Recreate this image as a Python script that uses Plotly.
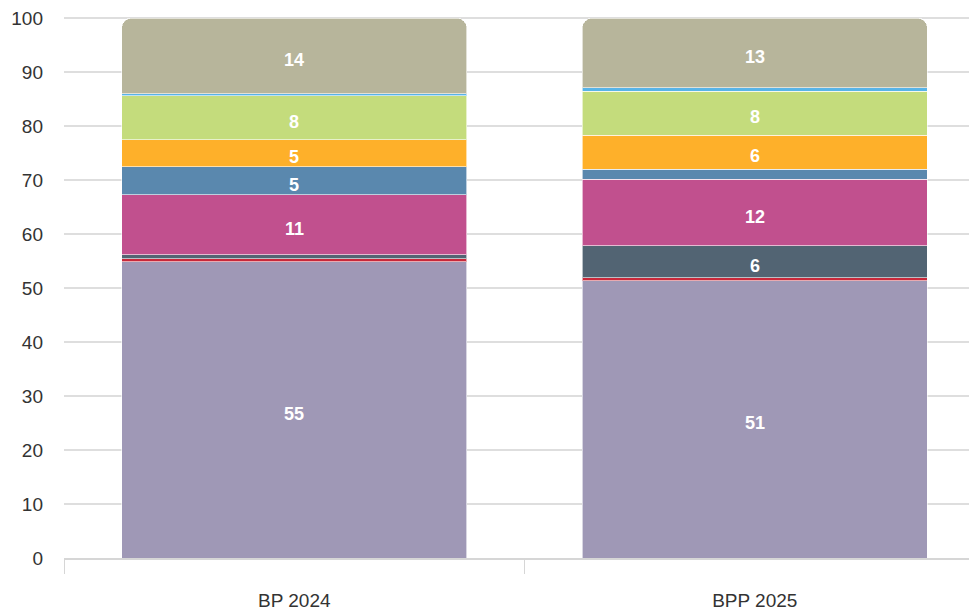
import plotly.graph_objects as go

categories = ["BP 2024", "BPP 2025"]
series_names = ["S1", "S2", "S3", "S4", "S5", "S6", "S7", "S8", "S9"]
purple = [54.9, 51.4]
red = [0.5, 0.5]
slate = [0.8, 5.9]
magenta = [11.1, 12.4]
blue = [5.2, 1.8]
orange = [5.0, 6.3]
green = [8.1, 8.2]
lightblue = [0.4, 0.6]
khaki = [14.0, 12.9]
y_ticks = [0, 10, 20, 30, 40, 50, 60, 70, 80, 90, 100]

series_values = [purple, red, slate, magenta, blue, orange, green, lightblue, khaki]
colors = ["#9f98b6", "#c8283a", "#526473", "#c1508e", "#5a88ae",
          "#feb02a", "#c4dc7c", "#58b4e8", "#b7b59b"]

fig = go.Figure()
base = [0.0] * len(categories)
for name, vals, col in zip(series_names, series_values, colors):
    fig.add_trace(go.Bar(
        x=categories, y=vals, name=name,
        marker=dict(color=col, line=dict(color="rgba(255,255,255,0.6)", width=1)),
        hoverinfo="x+y",
    ))
    for i, v in enumerate(vals):
        if v >= 3:
            fig.add_annotation(
                x=categories[i], y=base[i] + v / 2, text=str(round(v)),
                showarrow=False, yshift=-4,
                font=dict(color="white", size=18, family="Liberation Sans", weight="bold"),
            )
        base[i] += v

fig.update_layout(
    barmode="stack",
    bargap=0.25,
    barcornerradius=10,
    width=977, height=611,
    margin=dict(l=56, r=0, t=8, b=61, autoexpand=False),
    plot_bgcolor="white", paper_bgcolor="white",
    showlegend=False,
    font=dict(family="Liberation Sans", color="#333333"),
)
fig.update_yaxes(
    range=[0, 100.4], tickmode="array", tickvals=y_ticks,
    showgrid=True, gridcolor="#dedede", gridwidth=2,
    zeroline=False, tickfont=dict(size=19, color="#333333"), ticklabelstandoff=20,
    ticklabeloverflow="allow",
    fixedrange=True, automargin=False,
)
fig.update_xaxes(
    showline=True, linecolor="#d6d6d6", linewidth=2,
    ticks="outside", tickson="boundaries", ticklen=14, tickcolor="#d6d6d6", tickwidth=1,
    tickfont=dict(size=19, color="#333333"), ticklabelstandoff=24, automargin=False,
)

fig.write_html("out.html")
